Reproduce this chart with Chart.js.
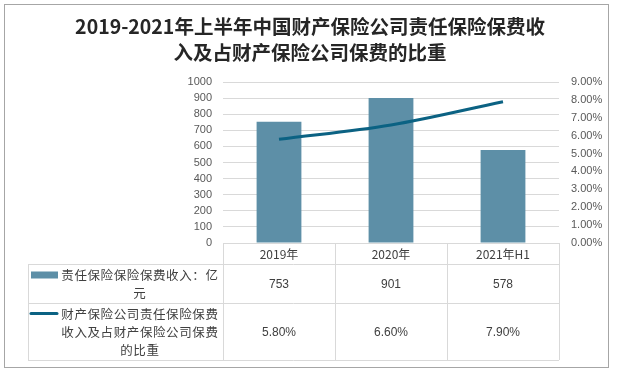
<!DOCTYPE html>
<html>
<head>
<meta charset="utf-8">
<script src="https://cdn.jsdelivr.net/npm/chart.js@4.4.0/dist/chart.umd.min.js"></script>
<style>
    body { margin: 0; background: #fff; }
    canvas { display: block; }
</style>
</head>
<body>
<canvas id="premium-chart" width="617" height="375"></canvas>
<script>
const titleLines = ['2019-2021年上半年中国财产保险公司责任保险保费收', '入及占财产保险公司保费的比重'];
const categories = ['2019年', '2020年', '2021年H1'];
const seriesNames = ['责任保险保险保费收入：亿元', '财产保险公司责任保险保费收入及占财产保险公司保费的比重'];
const premiumIncome = [753, 901, 578];
const premiumShare = [5.8, 6.6, 7.9];
const premiumText = ['753', '901', '578'];
const shareText = ['5.80%', '6.60%', '7.90%'];

const barColor = '#5d8fa7';
const lineColor = '#0b6283';
const gridColor = '#d9d9d9';
const textColor = '#404040';
const cjkFont = '"Noto Sans CJK SC", "Noto Sans", sans-serif';
const numFont = '"Liberation Sans", "Noto Sans", sans-serif';

// splits a label into lines of at most n characters
const wrap = (text, n) => {
    let lines = [];
    for (let i = 0; i < text.length; i += n) {
        lines.push(text.slice(i, i + n));
    }
    return lines;
};

const frameAndTable = {
    id: 'frameAndTable',
    afterDraw(chart) {
        const ctx = chart.ctx;
        const area = chart.chartArea;
        const x = chart.scales.x;
        ctx.save();

        // outer frame
        ctx.strokeStyle = '#a6a6a6';
        ctx.lineWidth = 1;
        ctx.strokeRect(4.5, 4.5, 604, 363);

        // title
        ctx.fillStyle = '#262626';
        ctx.font = 'bold 19.5px ' + cjkFont;
        ctx.textAlign = 'center';
        ctx.textBaseline = 'middle';
        ctx.fillText(titleLines[0], 310, 27);
        ctx.fillText(titleLines[1], 310, 53);

        // data table
        const colW = (area.right - area.left) / categories.length;
        const tableLeft = 28;
        const rows = [243, 264, 303, 360];
        ctx.strokeStyle = gridColor;
        ctx.beginPath();
        ctx.moveTo(area.left, rows[0] + 0.5);
        ctx.lineTo(area.right, rows[0] + 0.5);
        for (let r = 1; r < rows.length; r++) {
            ctx.moveTo(tableLeft, rows[r] + 0.5);
            ctx.lineTo(area.right, rows[r] + 0.5);
        }
        ctx.moveTo(tableLeft + 0.5, rows[1]);
        ctx.lineTo(tableLeft + 0.5, rows[3]);
        for (let i = 0; i <= categories.length; i++) {
            const cx = Math.round(area.left + i * colW) + 0.5;
            ctx.moveTo(cx, rows[0]);
            ctx.lineTo(cx, rows[3]);
        }
        ctx.stroke();

        ctx.fillStyle = textColor;
        ctx.textAlign = 'center';
        ctx.textBaseline = 'middle';
        categories.forEach((c, i) => {
            const cx = x.getPixelForValue(i);
            ctx.font = '12px ' + cjkFont;
            ctx.fillText(c, cx, (rows[0] + rows[1]) / 2 + 1);
            ctx.font = '12px ' + numFont;
            ctx.fillText(premiumText[i], cx, (rows[1] + rows[2]) / 2 + 1);
            ctx.fillText(shareText[i], cx, (rows[2] + rows[3]) / 2 + 1);
        });

        // legend keys and wrapped series names
        const textLeft = 61;
        const step = 13.1;
        const perLine = 12;
        const lh = 18;
        ctx.font = '12.5px ' + cjkFont;
        seriesNames.forEach((name, s) => {
            const lines = wrap(name, perLine);
            const mid = (rows[s + 1] + rows[s + 2]) / 2;
            const top = mid - (lines.length - 1) * lh / 2;
            lines.forEach((line, k) => {
                const lineW = line.length * step;
                const start = line.length === perLine ? textLeft : textLeft + (perLine * step - lineW) / 2;
                for (let j = 0; j < line.length; j++) {
                    ctx.fillText(line[j], start + j * step + step / 2, top + k * lh + 1);
                }
            });
            if (s === 0) {
                ctx.fillStyle = barColor;
                ctx.fillRect(31, top - 3, 27, 7);
                ctx.fillStyle = textColor;
            } else {
                ctx.strokeStyle = lineColor;
                ctx.lineWidth = 3;
                ctx.lineCap = 'round';
                ctx.beginPath();
                ctx.moveTo(31, top);
                ctx.lineTo(57, top);
                ctx.stroke();
            }
        });
        ctx.restore();
    }
};

new Chart(document.getElementById('premium-chart').getContext('2d'), {
    type: 'bar',
    data: {
        labels: categories,
        datasets: [{
            type: 'line',
            label: seriesNames[1],
            data: premiumShare,
            yAxisID: 'y1',
            borderColor: lineColor,
            borderWidth: 3,
            tension: 0.35,
            pointRadius: 0,
            fill: false,
            order: 0
        }, {
            label: seriesNames[0],
            data: premiumIncome,
            yAxisID: 'y',
            backgroundColor: barColor,
            categoryPercentage: 1,
            barPercentage: 0.4,
            order: 1
        }]
    },
    options: {
        responsive: false,
        animation: false,
        layout: {
            padding: { top: 82, bottom: 132, left: 180, right: 0 }
        },
        plugins: {
            legend: { display: false },
            title: { display: false },
            tooltip: { enabled: false }
        },
        scales: {
            x: {
                display: false
            },
            y: {
                position: 'left',
                min: 0,
                max: 1000,
                ticks: {
                    stepSize: 100,
                    autoSkip: false,
                    padding: 11,
                    color: '#595959',
                    font: { family: numFont, size: 11 },
                    callback: v => String(v)
                },
                grid: { color: gridColor, drawTicks: false },
                border: { display: false },
                afterFit: scale => { scale.width = 43; }
            },
            y1: {
                position: 'right',
                min: 0,
                max: 9,
                ticks: {
                    stepSize: 1,
                    autoSkip: false,
                    padding: 12,
                    color: '#595959',
                    font: { family: numFont, size: 11 },
                    callback: v => v.toFixed(2) + '%'
                },
                grid: { display: false, drawTicks: false },
                border: { display: false },
                afterFit: scale => { scale.width = 58; }
            }
        }
    },
    plugins: [frameAndTable]
});
</script>
</body>
</html>
